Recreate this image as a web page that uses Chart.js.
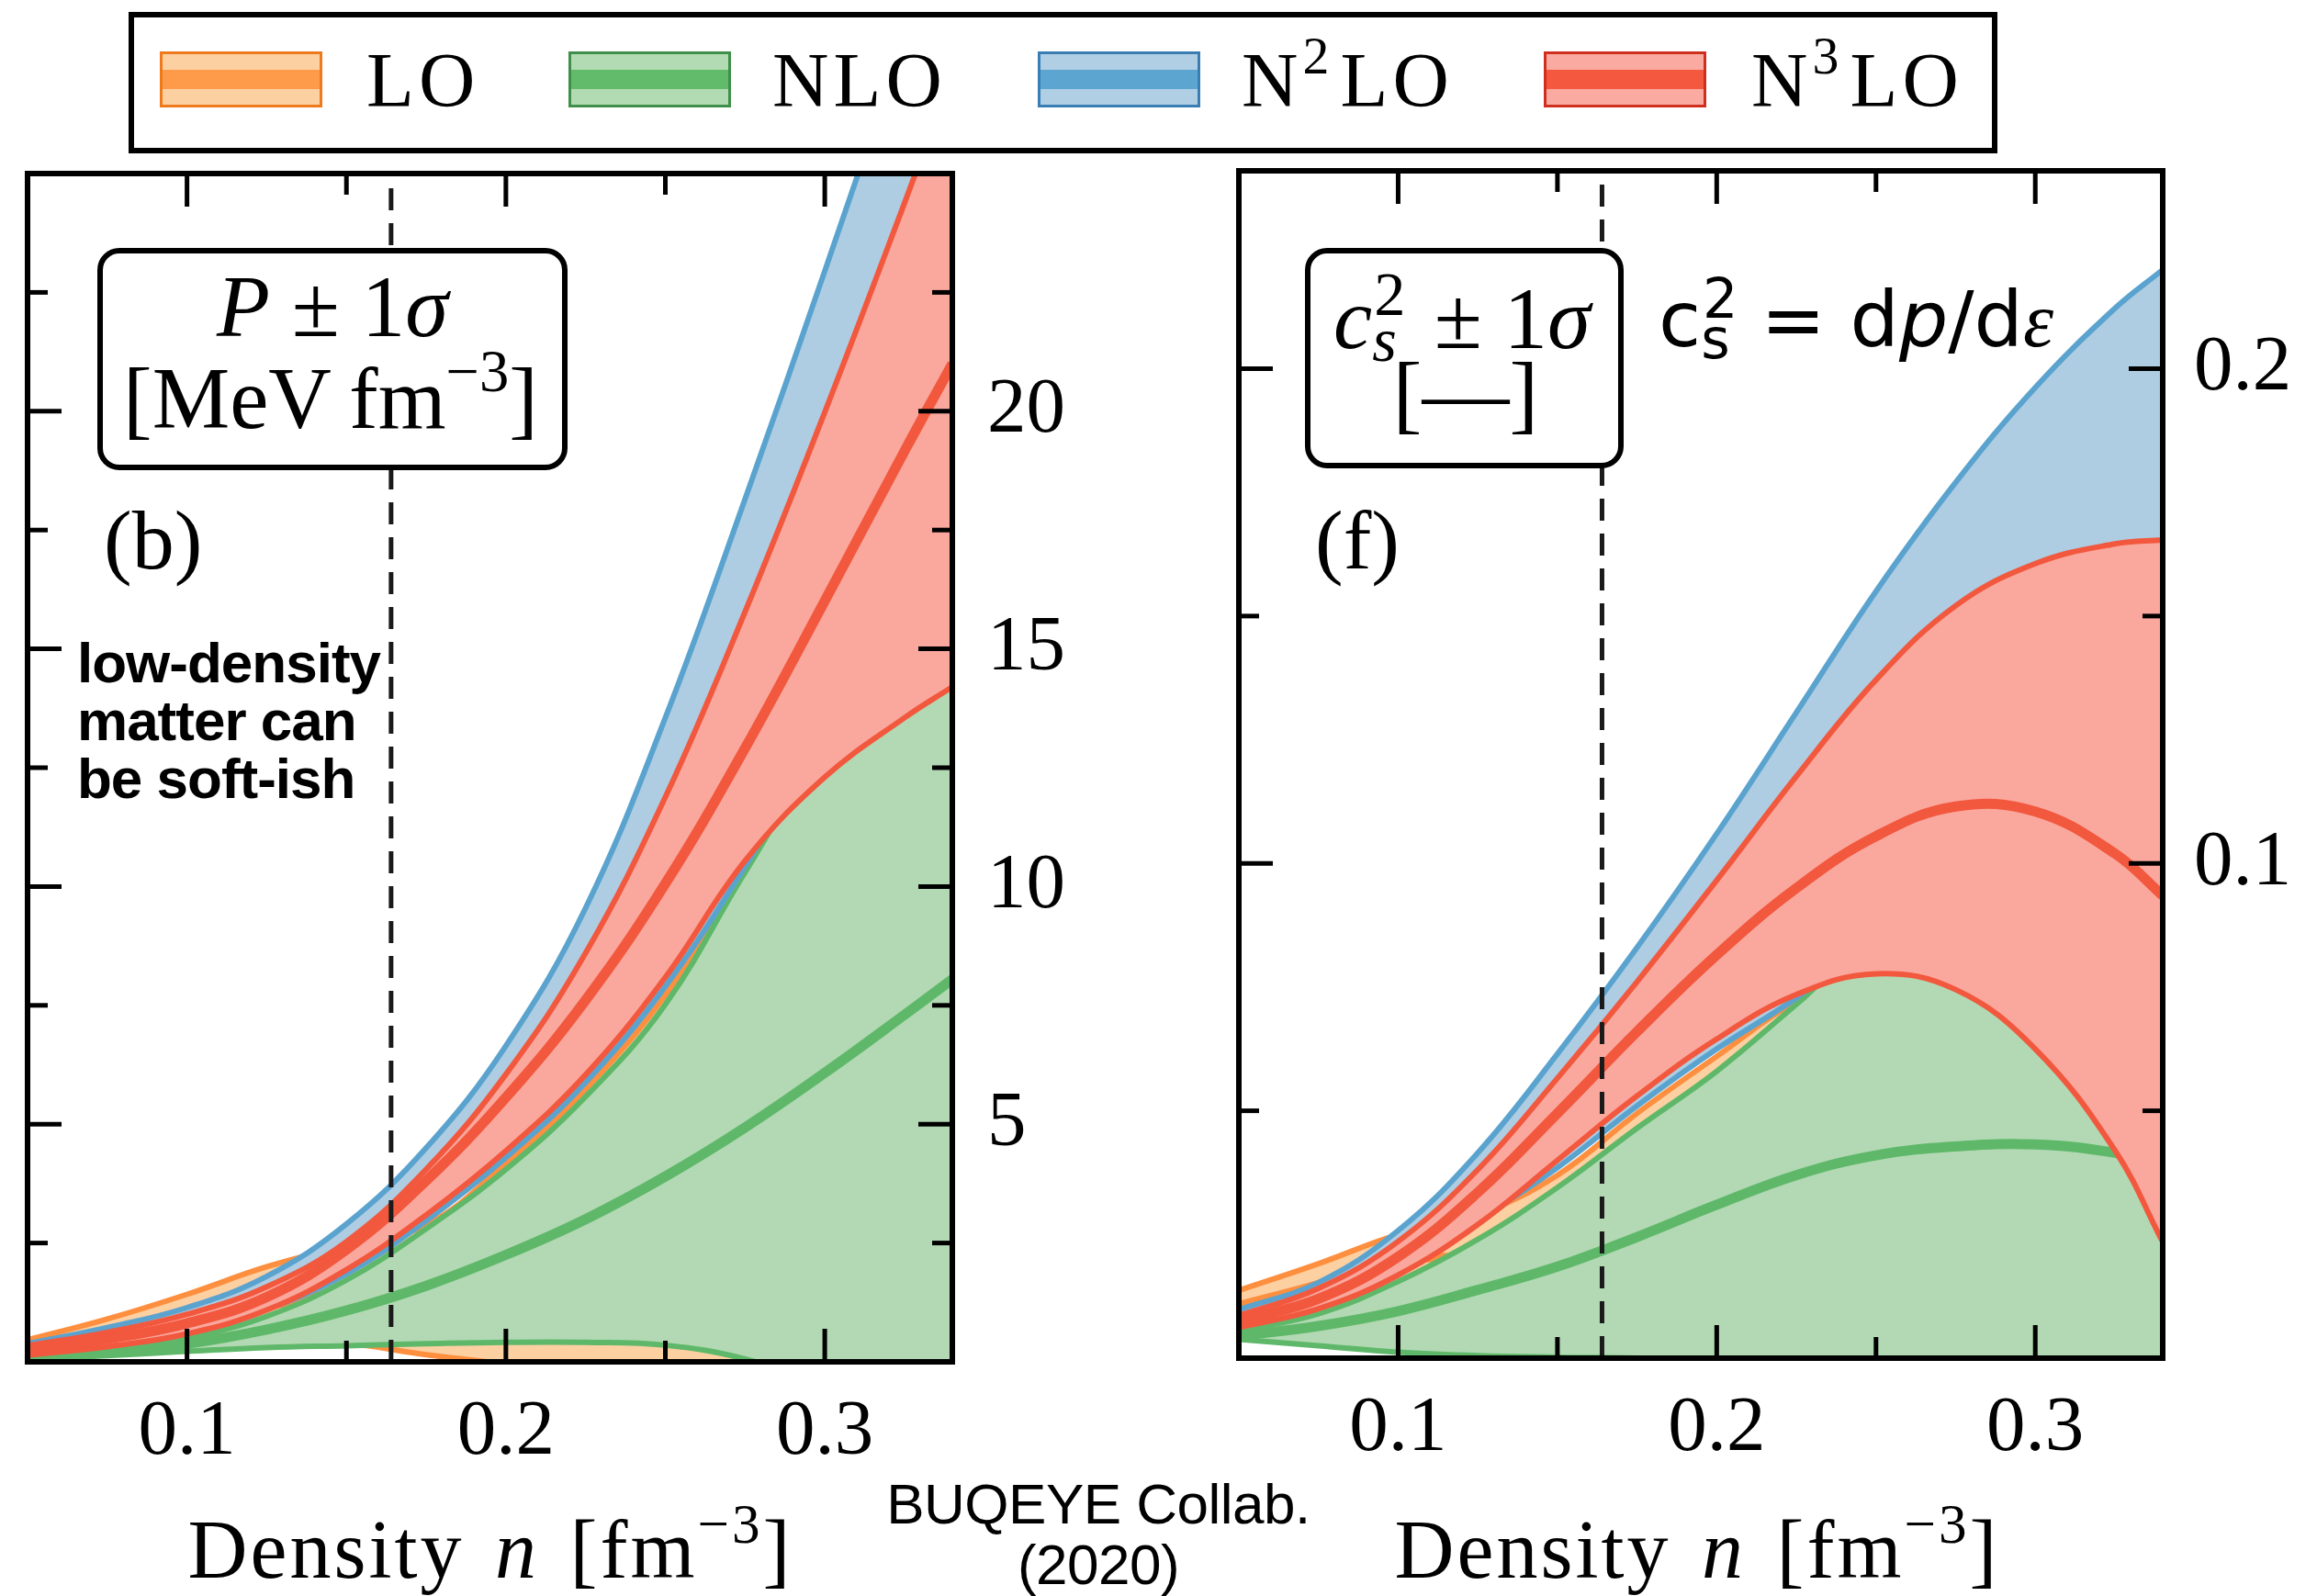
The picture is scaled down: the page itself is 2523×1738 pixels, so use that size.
<!DOCTYPE html>
<html>
<head>
<meta charset="utf-8">
<script src="https://cdn.jsdelivr.net/npm/chart.js"></script>
<style>
  html, body { margin: 0; padding: 0; background: #fff; }
  body { width: 2523px; height: 1738px; position: relative; overflow: hidden;
         font-family: 'Liberation Serif', 'Times New Roman', serif; color: #000; }
  canvas { position: absolute; }
  .abs { position: absolute; white-space: nowrap; line-height: 1; z-index: 5; }
  .ctr { transform: translateX(-50%); }
  .box { position: absolute; box-sizing: border-box; border: 6px solid #000; border-radius: 24px;
         background: #fff; z-index: 4; }
  .sp { font-size: 0.68em; position: relative; top: -0.62em; }
  .stack { display: inline-block; position: relative; width: 0.46em; height: 1em; vertical-align: baseline; }
  .stack .up { position: absolute; left: 0.03em; bottom: 0.36em; font-size: 0.72em; line-height: 1; }
  .stack .dn { position: absolute; left: 0; top: 0.76em; font-size: 0.72em; line-height: 1; }
  .leg { letter-spacing: 0.06em; }
  .patch { position: absolute; top: 56px; width: 177px; height: 61px; box-sizing: border-box; border: 3px solid; z-index: 5; }
  .patch div { position: absolute; left: 0; right: 0; top: 17px; height: 21px; }
  .axt { font-size: 90px; letter-spacing: 3px; word-spacing: 8px; }
</style>
</head>
<body>

<canvas id="pChart" width="1250" height="1520" style="left:0px; top:140px"></canvas>
<canvas id="csChart" width="1223" height="1520" style="left:1300px; top:140px"></canvas>

<!-- legend -->
<div style="position:absolute; left:140px; top:13px; width:2035px; height:154px; border:6px solid #000; box-sizing:border-box; background:#fff; z-index:4"></div>
<div class="patch" style="left:174px; background:#fdd0a2; border-color:#ee7a1c"><div style="background:#fd9b4a"></div></div>
<div class="abs leg" style="left:399px; top:45px; font-size:85px">LO</div>
<div class="patch" style="left:619px; background:#b2dab3; border-color:#3f8f4a"><div style="background:#62ba6b"></div></div>
<div class="abs leg" style="left:841px; top:45px; font-size:85px">NLO</div>
<div class="patch" style="left:1130px; background:#b0cfe4; border-color:#3a7db3"><div style="background:#5ca5d1"></div></div>
<div class="abs leg" style="left:1352px; top:45px; font-size:85px">N<span class="sp" style="margin-right:0.12em">2</span>LO</div>
<div class="patch" style="left:1681px; background:#faaaa0; border-color:#cf2f1e"><div style="background:#f4583e"></div></div>
<div class="abs leg" style="left:1907px; top:45px; font-size:85px">N<span class="sp" style="margin-right:0.12em">3</span>LO</div>

<!-- left panel annotations -->
<div class="box" style="left:106px; top:270px; width:512px; height:242px"></div>
<div class="abs ctr" style="left:362px; top:287px; font-size:95px"><i>P</i> ± 1<i>σ</i></div>
<div class="abs ctr" style="left:360px; top:387px; font-size:95px">[MeV&thinsp;fm<span class="sp">−3</span>]</div>
<div class="abs" style="left:113px; top:542px; font-size:92px">(b)</div>
<div class="abs" style="left:84px; top:690px; font-family:'Liberation Sans', Arial, sans-serif; font-weight:bold; font-size:62px; line-height:63px; letter-spacing:-1px">low-density<br>matter can<br>be soft-ish</div>

<!-- right panel annotations -->
<div class="box" style="left:1421px; top:270px; width:347px; height:240px"></div>
<div class="abs ctr" style="left:1592px; top:284px; font-size:95px"><i>c</i><span class="stack"><span class="up">2</span><span class="dn"><i>s</i></span></span> ± 1<i>σ</i></div>
<div class="abs ctr" style="left:1596px; top:381px; font-size:95px">[—]</div>
<div class="abs" style="left:1432px; top:542px; font-size:92px">(f)</div>
<div class="abs" style="left:1806px; top:293px; font-family:'DejaVu Sans', sans-serif; font-size:84px">c<span class="stack"><span class="up">2</span><span class="dn">s</span></span> =&nbsp;d<i>p</i>/d<span style="font-family:'Liberation Serif', serif; font-style:italic">ε</span></div>

<!-- axis titles and credit -->
<div class="abs ctr axt" style="left:534px; top:1643px">Density <i>n</i> [fm<span class="sp">−3</span>]</div>
<div class="abs ctr axt" style="left:1848px; top:1643px">Density <i>n</i> [fm<span class="sp">−3</span>]</div>
<div class="abs ctr" style="left:1196px; top:1605px; font-family:'Liberation Sans', Arial, sans-serif; font-size:62px; line-height:66px; text-align:center; letter-spacing:-0.5px">BUQEYE Collab.<br>(2020)</div>

<script>
// ------------------- DATA -------------------
const density = [0.05, 0.075, 0.1, 0.125, 0.15, 0.175, 0.2, 0.225, 0.25, 0.275, 0.3, 0.325, 0.34];
const saturationDensity = 0.164;

// pressure P [MeV fm^-3], panel (b)
const pLoLow   = [0.10, 0.19, 0.28, 0.36, 0.38, 0.15, -0.05, -0.30, -0.60, -0.95, -1.30, -1.70, -2.00];
const pLoMid   = [0.34, 0.60, 0.95, 1.20, 1.50, 2.00, 2.50, 3.00, 3.40, 3.80, 4.20, 4.60, 4.80];
const pLoHigh  = [0.46, 0.90, 1.42, 2.00, 2.45, 2.88, 4.18, 5.74, 7.72, 10.32, 12.20, 13.30, 13.90];
const pNloLow  = [0.06, 0.13, 0.22, 0.30, 0.34, 0.38, 0.41, 0.41, 0.35, 0.06, -0.50, -1.20, -1.70];
const pNloMid  = [0.10, 0.20, 0.38, 0.68, 1.08, 1.60, 2.25, 3.00, 3.90, 4.93, 6.08, 7.30, 8.05];
const pNloHigh = [0.12, 0.27, 0.50, 0.96, 1.72, 2.80, 4.05, 5.58, 7.52, 10.30, 12.90, 14.50, 15.30];
const pN2Low   = [0.16, 0.34, 0.60, 1.10, 1.85, 2.97, 4.30, 5.88, 7.90, 10.42, 13.20, 15.20, 16.40];
const pN2Mid   = [0.27, 0.52, 0.86, 1.45, 2.20, 3.50, 5.20, 7.20, 10.00, 13.80, 17.80, 21.40, 23.40];
const pN2High  = [0.38, 0.72, 1.14, 1.80, 2.90, 4.50, 6.65, 9.55, 13.55, 18.15, 22.95, 27.85, 30.80];
const pN3Low   = [0.14, 0.32, 0.59, 1.09, 1.94, 3.09, 4.44, 6.04, 8.09, 10.54, 12.30, 13.55, 14.20];
const pN3Mid   = [0.25, 0.48, 0.81, 1.36, 2.36, 3.81, 5.56, 7.61, 10.06, 12.91, 16.01, 19.16, 21.00];
const pN3High  = [0.34, 0.62, 1.00, 1.58, 2.53, 4.05, 6.05, 8.60, 11.88, 15.78, 19.98, 24.38, 27.10];

// speed of sound squared c_s^2, panel (f)
const cLoLow   = [0.0060, 0.0070, 0.0090, 0.0110, 0.0120, 0.0130, 0.0120, 0.0110, 0.0100, 0.0080, 0.0050, 0.0020, 0.0000];
const cLoMid   = [0.0105, 0.0148, 0.0200, 0.0210, 0.0290, 0.0380, 0.0460, 0.0530, 0.0580, 0.0570, 0.0500, 0.0400, 0.0300];
const cLoHigh  = [0.0137, 0.0191, 0.0250, 0.0290, 0.0370, 0.0495, 0.0610, 0.0722, 0.0800, 0.0800, 0.0700, 0.0550, 0.0450];
const cNloLow  = [0.0038, 0.0025, 0.0012, 0.0005, 0.0002, 0.0000, -0.0010, -0.0020, -0.0030, -0.0040, -0.0050, -0.0060, -0.0070];
const cNloMid  = [0.0045, 0.0065, 0.0095, 0.0138, 0.0185, 0.0245, 0.0310, 0.0370, 0.0410, 0.0428, 0.0432, 0.0415, 0.0390];
const cNloHigh = [0.0055, 0.0090, 0.0155, 0.0240, 0.0345, 0.0465, 0.0580, 0.0715, 0.0850, 0.0880, 0.0800, 0.0620, 0.0500];
const cN2Low   = [0.0075, 0.0115, 0.0190, 0.0280, 0.0385, 0.0510, 0.0625, 0.0728, 0.0850, 0.0950, 0.1000, 0.1000, 0.1000];
const cN2Mid   = [0.0078, 0.0125, 0.0210, 0.0340, 0.0510, 0.0670, 0.0830, 0.1000, 0.1180, 0.1350, 0.1480, 0.1550, 0.1580];
const cN2High  = [0.0098, 0.0153, 0.0258, 0.0415, 0.0615, 0.0830, 0.1060, 0.1305, 0.1550, 0.1770, 0.1962, 0.2122, 0.2200];
const cN3Low   = [0.0062, 0.0100, 0.0168, 0.0270, 0.0400, 0.0530, 0.0645, 0.0735, 0.0777, 0.0745, 0.0625, 0.0420, 0.0235];
const cN3Mid   = [0.0075, 0.0120, 0.0205, 0.0335, 0.0495, 0.0660, 0.0815, 0.0950, 0.1055, 0.1115, 0.1105, 0.1020, 0.0935];
const cN3High  = [0.0086, 0.0141, 0.0236, 0.0381, 0.0566, 0.0761, 0.0966, 0.1176, 0.1371, 0.1521, 0.1606, 0.1646, 0.1654];

// ticks
const xMajor  = [0.1, 0.2, 0.3];
const xMinor  = [0.15, 0.25];
const pMajor  = [5, 10, 15, 20];
const pMinor  = [2.5, 7.5, 12.5, 17.5, 22.5];
const cMajor  = [0.1, 0.2];
const cMinor  = [0.05, 0.15];

// colours: [line, fill]
const colLO  = ['#fd8f3f', '#fdd0a2'];
const colNLO = ['#5fb86a', '#b2d9b3'];
const colN2  = ['#5ba3cf', '#aecde2'];
const colN3  = ['#f2583e', '#faa89e'];

// ------------------- HELPERS -------------------
function points(arr) {
    return density.map((n, i) => ({ x: n, y: arr[i] }));
}

// upper edge (filled down to the lower edge), lower edge, centre line
function band(name, col, low, mid, high, baseOrder) {
    const common = { pointRadius: 0, borderColor: col[0], tension: 0.4, clip: 0 };
    return [
        { ...common, label: name + ' upper', data: points(high), borderWidth: 6, fill: '+1', backgroundColor: col[1], order: baseOrder + 2 },
        { ...common, label: name + ' lower', data: points(low), borderWidth: 6, fill: false, order: baseOrder + 1 },
        { ...common, label: name, data: points(mid), borderWidth: 11, fill: false, order: baseOrder }
    ];
}

// frame, inward ticks and the saturation-density line
const framePlugin = {
    id: 'frame',
    afterDatasetsDraw(chart, args, opts) {
        const { ctx, chartArea: a } = chart;
        const x = chart.scales.x, y = chart.scales.y;
        ctx.save();

        const xs = x.getPixelForValue(saturationDensity);
        ctx.strokeStyle = '#1a1a1a';
        ctx.lineWidth = 5;
        ctx.setLineDash([24, 14]);
        ctx.beginPath();
        ctx.moveTo(xs, a.bottom);
        ctx.lineTo(xs, a.top);
        ctx.stroke();
        ctx.setLineDash([]);

        ctx.strokeStyle = '#000';
        ctx.lineWidth = 5;
        const seg = (x1, y1, x2, y2) => { ctx.beginPath(); ctx.moveTo(x1, y1); ctx.lineTo(x2, y2); ctx.stroke(); };
        const xTicks = (vals, len) => vals.forEach(v => {
            const px = x.getPixelForValue(v);
            seg(px, a.bottom, px, a.bottom - len);
            seg(px, a.top, px, a.top + len);
        });
        const yTicks = (vals, len) => vals.forEach(v => {
            const py = y.getPixelForValue(v);
            seg(a.left, py, a.left + len, py);
            seg(a.right, py, a.right - len, py);
        });
        xTicks(xMajor, 36);
        xTicks(xMinor, 23);
        yTicks(opts.yMajor, 37);
        yTicks(opts.yMinor, 22);

        ctx.lineWidth = 6;
        ctx.strokeRect(a.left, a.top, a.width, a.height);
        ctx.restore();
    }
};

function makeChart(id, datasets, cfg) {
    const tickFont = { family: "'Liberation Serif', 'Times New Roman', serif", size: 85 };
    return new Chart(document.getElementById(id), {
        type: 'line',
        data: { datasets: datasets },
        options: {
            responsive: false,
            animation: false,
            devicePixelRatio: 1,
            layout: { padding: { left: cfg.padLeft, top: cfg.padTop, right: 0, bottom: 0 } },
            plugins: {
                legend: { display: false },
                tooltip: { enabled: false },
                filler: { propagate: false, drawTime: 'beforeDatasetDraw' },
                frame: { yMajor: cfg.yMajor, yMinor: cfg.yMinor }
            },
            scales: {
                x: {
                    type: 'linear', min: 0.05, max: 0.34,
                    grid: { display: false, drawTicks: false },
                    border: { display: false },
                    ticks: { font: tickFont, color: '#000', padding: 27, maxRotation: 0, autoSkip: false },
                    afterBuildTicks: s => { s.ticks = xMajor.map(v => ({ value: v })); },
                    afterFit: s => {
                        s.height = cfg.xHeight;
                        s.paddingLeft = s.paddingRight = s.paddingTop = s.paddingBottom = 0;
                    }
                },
                y: {
                    type: 'linear', position: 'right', min: 0, max: cfg.yMax,
                    grid: { display: false, drawTicks: false },
                    border: { display: false },
                    ticks: { font: tickFont, color: '#000', padding: cfg.yPad, autoSkip: false },
                    afterBuildTicks: s => { s.ticks = cfg.yMajor.map(v => ({ value: v })); },
                    afterFit: s => {
                        s.width = cfg.yWidth;
                        s.paddingLeft = s.paddingRight = s.paddingTop = s.paddingBottom = 0;
                    }
                }
            }
        },
        plugins: [framePlugin]
    });
}

// ------------------- CHARTS -------------------
makeChart('pChart', [
    ...band('LO', colLO, pLoLow, pLoMid, pLoHigh, 10),
    ...band('NLO', colNLO, pNloLow, pNloMid, pNloHigh, 7),
    ...band('N2LO', colN2, pN2Low, pN2Mid, pN2High, 4),
    ...band('N3LO', colN3, pN3Low, pN3Mid, pN3High, 1)
], { padLeft: 30, padTop: 49, xHeight: 177, yWidth: 213, yMax: 25, yPad: 38, yMajor: pMajor, yMinor: pMinor });

makeChart('csChart', [
    ...band('LO', colLO, cLoLow, cLoMid, cLoHigh, 10),
    ...band('NLO', colNLO, cNloLow, cNloMid, cNloHigh, 7),
    ...band('N2LO', colN2, cN2Low, cN2Mid, cN2High, 4),
    ...band('N3LO', colN3, cN3Low, cN3Mid, cN3High, 1)
], { padLeft: 49, padTop: 46, xHeight: 181, yWidth: 168, yMax: 0.24, yPad: 34, yMajor: cMajor, yMinor: cMinor });
</script>
</body>
</html>
